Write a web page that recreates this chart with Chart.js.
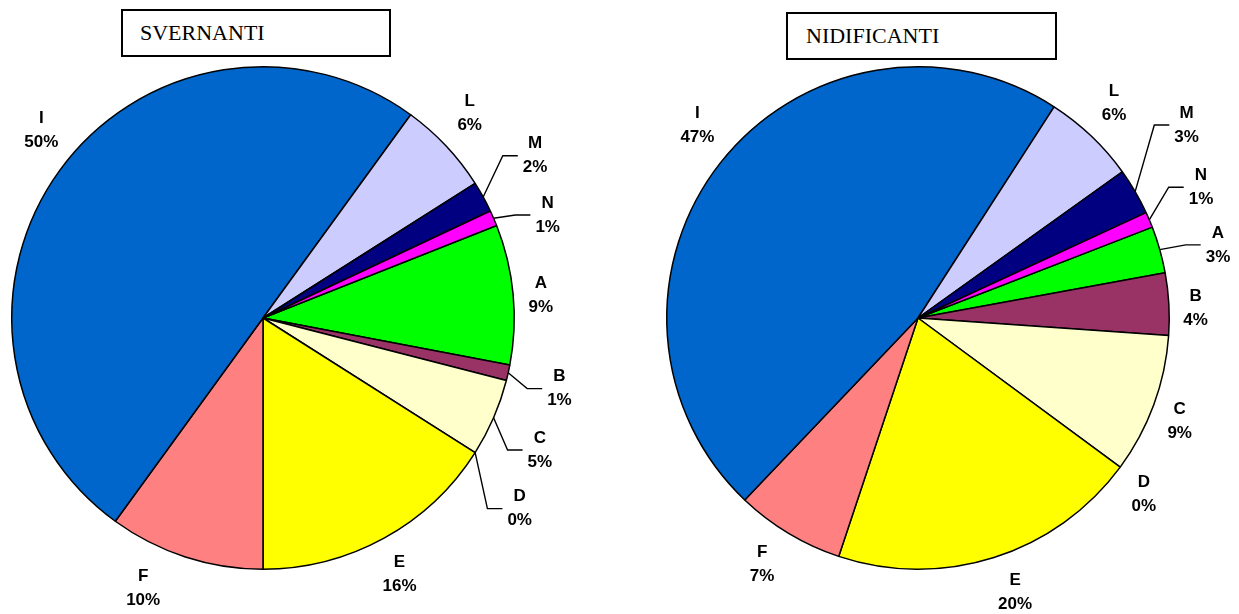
<!DOCTYPE html>
<html>
<head>
<meta charset="utf-8">
<script src="https://cdn.jsdelivr.net/npm/chart.js@4"></script>
<style>
  html, body { margin: 0; padding: 0; background: #fff; }
  #wrap { position: relative; width: 1239px; height: 614px; overflow: hidden; }
  canvas { position: absolute; top: 0; }
  .titlebox {
    position: absolute; box-sizing: border-box; border: 2px solid #000; background: #fff;
    font-family: "Liberation Serif", "Times New Roman", serif; font-size: 22px; color: #000;
    line-height: 44px; white-space: nowrap; z-index: 2;
  }
</style>
</head>
<body>
<div id="wrap">
  <canvas id="pieSvernanti" width="620" height="614" style="left:0"></canvas>
  <canvas id="pieNidificanti" width="619" height="614" style="left:620px"></canvas>
  <div class="titlebox" style="left:121px;top:9px;width:270px;height:48px;padding-left:17px">SVERNANTI</div>
  <div class="titlebox" style="left:786px;top:12px;width:271px;height:48px;padding-left:18px">NIDIFICANTI</div>
</div>
<script>
// Categories and percentages per group
const categories = ['A', 'B', 'C', 'D', 'E', 'F', 'I', 'L', 'M', 'N'];
const svernanti   = [9, 1, 5, 0, 16, 10, 50, 6, 2, 1];
const nidificanti = [3, 4, 9, 0, 20, 7, 47, 6, 3, 1];

const sliceColors = ['#00FF00', '#993366', '#FFFFCC', '#FFCC99', '#FFFF00',
                     '#FF8080', '#0066CC', '#CCCCFF', '#000080', '#FF00FF'];

// Label layout: angular shift (deg), distance beyond the rim (px), leader line on/off
const svernantiLabels = {
  shift:  [0.7, 0.8, 2.1, 4.2, 0.8, 5.9, 4.3, -1.5, -2, 3.5],
  gap:    [27.5, 53.5, 55.5, 68.5, 39.5, 44.5, 39.5, 39.5, 65.5, 51.5],
  leader: [false, true, true, true, false, false, false, false, true, true]
};
const nidificantiLabels = {
  shift:  [2.1, 1.3, 1.3, 1.5, -1.9, 1.3, 2.9, -1.2, -5.5, -1.8],
  gap:    [57.5, 26.5, 30, 35, 39.5, 40.5, 41.5, 39.5, 79.5, 60.5],
  leader: [true, false, false, false, false, false, false, false, true, true]
};

// Draws "name / percent" labels outside each slice, with optional elbow leader lines
const sliceLabels = {
  id: 'sliceLabels',
  afterDatasetsDraw(chart, args, opts) {
    const ctx = chart.ctx;
    const meta = chart.getDatasetMeta(0);
    const data = chart.data.datasets[0].data;
    const total = data.reduce((a, b) => a + b, 0);
    ctx.save();
    ctx.font = 'bold 17px "Liberation Sans", Arial, sans-serif';
    ctx.fillStyle = '#000';
    ctx.strokeStyle = '#000';
    ctx.lineWidth = 1.4;
    ctx.textAlign = 'center';
    ctx.textBaseline = 'middle';
    meta.data.forEach((arc, i) => {
      const p = arc.getProps(['x', 'y', 'startAngle', 'endAngle', 'outerRadius'], true);
      const am = (p.startAngle + p.endAngle) / 2;
      const ang = am + opts.shift[i] * Math.PI / 180;
      const d = p.outerRadius + opts.gap[i];
      const cx = p.x + Math.cos(ang) * d;
      const cy = p.y + Math.sin(ang) * d;
      const lines = [chart.data.labels[i], Math.round(data[i] / total * 100) + '%'];
      if (opts.leader[i]) {
        const w = Math.max(...lines.map(t => ctx.measureText(t).width));
        const left = cx - w / 2;
        ctx.beginPath();
        ctx.moveTo(p.x + Math.cos(am) * p.outerRadius, p.y + Math.sin(am) * p.outerRadius);
        ctx.lineTo(left - 20, cy);
        ctx.lineTo(left - 5, cy);
        ctx.stroke();
      }
      ctx.fillText(lines[0], cx, cy - 12);
      ctx.fillText(lines[1], cx, cy + 12);
    });
    ctx.restore();
  }
};

function makePie(id, values, rotation, padding, labelOpts) {
  return new Chart(document.getElementById(id), {
    type: 'pie',
    data: {
      labels: categories,
      datasets: [{
        data: values,
        backgroundColor: sliceColors,
        borderColor: '#000',
        borderWidth: 1.5
      }]
    },
    options: {
      responsive: false,
      animation: false,
      rotation: rotation,
      layout: { padding: padding },
      plugins: {
        legend: { display: false },
        tooltip: { enabled: false },
        sliceLabels: labelOpts
      }
    },
    plugins: [sliceLabels]
  });
}

makePie('pieSvernanti', svernanti, 68.4, { left: 11, right: 105, top: 66, bottom: 44 }, svernantiLabels);
makePie('pieNidificanti', nidificanti, 68.8, { left: 46, right: 69, top: 66, bottom: 44 }, nidificantiLabels);
</script>
</body>
</html>
